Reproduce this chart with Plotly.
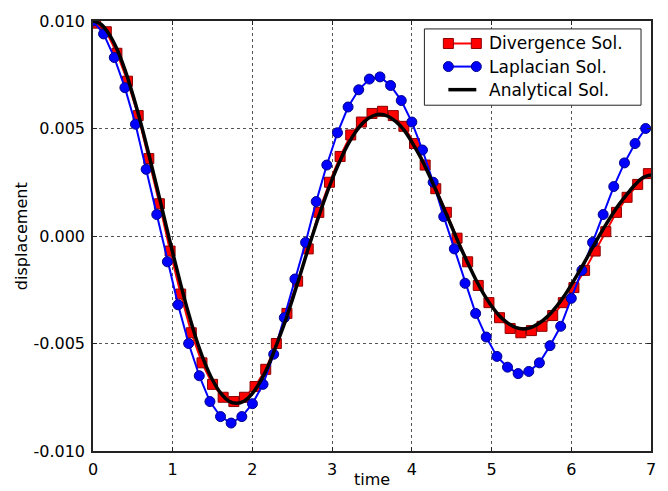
import plotly.graph_objects as go

# ---- data -------------------------------------------------------------
time_laplacian = [0.000, 0.133, 0.267, 0.400, 0.533, 0.667, 0.800, 0.933, 1.067, 1.200,
                  1.333, 1.467, 1.600, 1.733, 1.867, 2.000, 2.133, 2.267, 2.400, 2.533,
                  2.667, 2.800, 2.933, 3.067, 3.200, 3.333, 3.467, 3.600, 3.733, 3.867,
                  4.000, 4.133, 4.267, 4.400, 4.533, 4.667, 4.800, 4.933, 5.067, 5.200,
                  5.333, 5.467, 5.600, 5.733, 5.867, 6.000, 6.133, 6.267, 6.400, 6.533,
                  6.667, 6.800, 6.933]
disp_laplacian = [0.0100, 0.0094, 0.0083, 0.0069, 0.0052, 0.0031, 0.0010, -0.0012, -0.0032, -0.0050,
                  -0.0065, -0.0077, -0.0084, -0.0087, -0.0084, -0.0078, -0.0069, -0.0055, -0.0038, -0.0020,
                  -0.0003, 0.0016, 0.0033, 0.0048, 0.0060, 0.0068, 0.0073, 0.0074, 0.0070, 0.0063,
                  0.0053, 0.0040, 0.0025, 0.0009, -0.0006, -0.0022, -0.0036, -0.0047, -0.0056, -0.0061,
                  -0.0064, -0.0063, -0.0059, -0.0051, -0.0042, -0.0029, -0.0016, -0.0003, 0.0010, 0.0023,
                  0.0034, 0.0043, 0.0050]

time_divergence = [0.033, 0.167, 0.300, 0.433, 0.567, 0.700, 0.833, 0.967, 1.100, 1.233,
                   1.367, 1.500, 1.633, 1.767, 1.900, 2.033, 2.167, 2.300, 2.433, 2.567,
                   2.700, 2.833, 2.967, 3.100, 3.233, 3.367, 3.500, 3.633, 3.767, 3.900,
                   4.033, 4.167, 4.300, 4.433, 4.567, 4.700, 4.833, 4.967, 5.100, 5.233,
                   5.367, 5.500, 5.633, 5.767, 5.900, 6.033, 6.167, 6.300, 6.433, 6.567,
                   6.700, 6.833, 6.967]
disp_divergence = [0.0099, 0.0095, 0.0085, 0.0072, 0.0056, 0.0036, 0.0015, -0.0007, -0.0027, -0.0045,
                   -0.0059, -0.0069, -0.0075, -0.0077, -0.0075, -0.0070, -0.0062, -0.0050, -0.0036, -0.0021,
                   -0.0006, 0.0011, 0.0025, 0.0037, 0.0047, 0.0053, 0.0057, 0.0058, 0.0056, 0.0051,
                   0.0043, 0.0033, 0.0022, 0.0011, -0.0001, -0.0012, -0.0023, -0.0031, -0.0038, -0.0043,
                   -0.0045, -0.0044, -0.0042, -0.0037, -0.0031, -0.0024, -0.0016, -0.0007, 0.0002, 0.0011,
                   0.0018, 0.0024, 0.0029]

time_analytical = [0.0, 0.1, 0.2, 0.3, 0.4, 0.5, 0.6, 0.7, 0.8, 0.9,
                   1.0, 1.1, 1.2, 1.3, 1.4, 1.5, 1.6, 1.7, 1.8, 1.9,
                   2.0, 2.1, 2.2, 2.3, 2.4, 2.5, 2.6, 2.7, 2.8, 2.9,
                   3.0, 3.1, 3.2, 3.3, 3.4, 3.5, 3.6, 3.7, 3.8, 3.9,
                   4.0, 4.1, 4.2, 4.3, 4.4, 4.5, 4.6, 4.7, 4.8, 4.9,
                   5.0, 5.1, 5.2, 5.3, 5.4, 5.5, 5.6, 5.7, 5.8, 5.9,
                   6.0, 6.1, 6.2, 6.3, 6.4, 6.5, 6.6, 6.7, 6.8, 6.9, 7.0]
disp_analytical = [0.01000, 0.00985, 0.00940, 0.00870, 0.00774, 0.00657, 0.00525, 0.00380, 0.00230, 0.00075,
                   -0.00078, -0.00225, -0.00362, -0.00485, -0.00588, -0.00670, -0.00730, -0.00767, -0.00778, -0.00767,
                   -0.00732, -0.00676, -0.00602, -0.00508, -0.00409, -0.00297, -0.00179, -0.00058, 0.00056, 0.00164,
                   0.00263, 0.00351, 0.00427, 0.00487, 0.00531, 0.00557, 0.00566, 0.00557, 0.00532, 0.00494,
                   0.00437, 0.00372, 0.00297, 0.00215, 0.00130, 0.00043, -0.00044, -0.00124, -0.00201, -0.00269,
                   -0.00326, -0.00372, -0.00404, -0.00425, -0.00432, -0.00425, -0.00405, -0.00375, -0.00334, -0.00285,
                   -0.00227, -0.00164, -0.00099, -0.00032, 0.00032, 0.00092, 0.00147, 0.00195, 0.00238, 0.00272, 0.00284]

x_ticks = [0, 1, 2, 3, 4, 5, 6, 7]
x_tick_labels = ["0", "1", "2", "3", "4", "5", "6", "7"]
y_ticks = [-0.010, -0.005, 0.000, 0.005, 0.010]
y_tick_labels = ["-0.010", "-0.005", "0.000", "0.005", "0.010"]

series_names = ["Divergence Sol.", "Laplacian Sol.", "Analytical Sol."]

# ---- styling ----------------------------------------------------------
FONT = "DejaVu Sans"
RED, RED_EDGE = "#ff0000", "#8b0000"
BLUE, BLUE_EDGE = "#0000ff", "#00008b"

W, H = 668, 491
ML, MR, MT, MB = 93, 16, 19, 38
PW, PH = W - ML - MR, H - MT - MB


def px_x(p):
    return (p - ML) / PW


def px_y(p):
    return (H - MB - p) / PH


fig = go.Figure()

fig.add_trace(go.Scatter(
    x=time_divergence, y=disp_divergence, mode="lines+markers", name=series_names[0],
    line=dict(color=RED, width=2),
    marker=dict(symbol="square", size=10, color=RED, line=dict(color=RED_EDGE, width=1)),
    showlegend=False,
))
fig.add_trace(go.Scatter(
    x=time_laplacian, y=disp_laplacian, mode="lines+markers", name=series_names[1],
    line=dict(color=BLUE, width=2),
    marker=dict(symbol="circle", size=10, color=BLUE, line=dict(color=BLUE_EDGE, width=1)),
    showlegend=False,
))
fig.add_trace(go.Scatter(
    x=time_analytical, y=disp_analytical, mode="lines", name=series_names[2],
    line=dict(color="black", width=3.5, shape="spline"),
    showlegend=False,
))

axis_common = dict(
    showline=True, linecolor="#222222", linewidth=1.5, mirror="ticks",
    ticks="inside", ticklen=4, tickcolor="#222222",
    showgrid=True, gridcolor="#555555", gridwidth=1, griddash="dot",
    zeroline=False,
    tickfont=dict(family=FONT, size=16, color="black"),
)

fig.update_xaxes(range=[0, 7], tickmode="array", tickvals=x_ticks, ticktext=x_tick_labels,
                 ticklabelstandoff=3, **axis_common)
fig.update_yaxes(range=[-0.010, 0.010], tickmode="array", tickvals=y_ticks, ticktext=y_tick_labels,
                 ticklabelstandoff=3, **axis_common)

annotations = [
    dict(text="time", xref="paper", yref="paper", x=0.5, y=px_y(493), xanchor="center", yanchor="bottom",
         showarrow=False, font=dict(family=FONT, size=16, color="black")),
    dict(text="displacement", xref="paper", yref="paper", x=px_x(21), y=0.5, xanchor="center",
         yanchor="middle", textangle=-90, showarrow=False, font=dict(family=FONT, size=16, color="black")),
]

# hand-drawn legend box with two markers per entry
shapes = [dict(type="rect", xref="paper", yref="paper", x0=px_x(425), x1=px_x(642), y0=px_y(104), y1=px_y(27),
               line=dict(color="#222222", width=1), fillcolor="white", layer="above")]
rows = [41.7, 65.0, 88.3]
x_left, x_right, x_text = 449, 477, 488
legend_styles = [(RED, RED_EDGE, "rect", 2), (BLUE, BLUE_EDGE, "circle", 2), ("black", None, None, 3.5)]
for name, row, (col, edge, kind, lw) in zip(series_names, rows, legend_styles):
    shapes.append(dict(type="line", xref="paper", yref="paper", x0=px_x(x_left), x1=px_x(x_right),
                       y0=px_y(row), y1=px_y(row), line=dict(color=col, width=lw), layer="above"))
    if kind is not None:
        for xc in (x_left, x_right):
            shapes.append(dict(type=kind, xref="paper", yref="paper", xsizemode="pixel", ysizemode="pixel",
                               xanchor=px_x(xc), yanchor=px_y(row), x0=-5, x1=5, y0=-5, y1=5,
                               fillcolor=col, line=dict(color=edge, width=1), layer="above"))
    annotations.append(dict(text=name, xref="paper", yref="paper", x=px_x(x_text), y=px_y(row),
                            xanchor="left", yanchor="middle", showarrow=False,
                            font=dict(family=FONT, size=17, color="black")))

fig.update_layout(
    width=W, height=H,
    margin=dict(l=ML, r=MR, t=MT, b=MB),
    paper_bgcolor="white", plot_bgcolor="white",
    annotations=annotations, shapes=shapes,
    showlegend=False,
)

fig.write_html("out.html")
